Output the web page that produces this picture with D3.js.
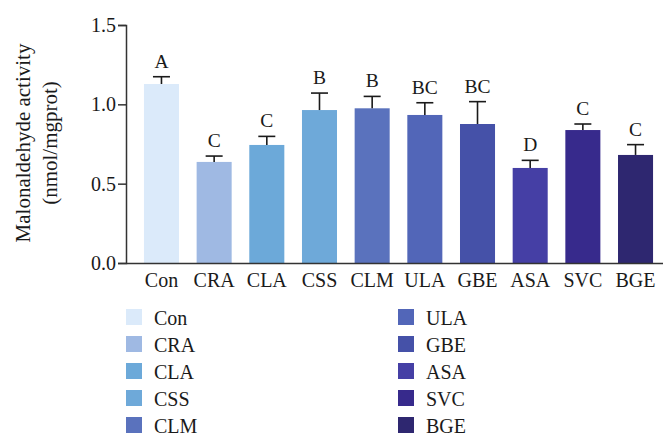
<!DOCTYPE html>
<html>
<head>
<meta charset="utf-8">
<script src="https://cdn.jsdelivr.net/npm/d3@7"></script>
<style>
  body { margin: 0; background: #fff; }
  text { font-family: "Liberation Serif", "DejaVu Serif", serif; fill: #1a1a1a; }
</style>
</head>
<body>
<div id="chart"></div>
<script>
const groups = ["Con", "CRA", "CLA", "CSS", "CLM", "ULA", "GBE", "ASA", "SVC", "BGE"];
const means = [1.128, 0.637, 0.744, 0.964, 0.975, 0.933, 0.876, 0.599, 0.838, 0.681];
const errs = [0.046, 0.037, 0.054, 0.107, 0.075, 0.077, 0.141, 0.048, 0.038, 0.065];
const letters = ["A", "C", "C", "B", "B", "BC", "BC", "D", "C", "C"];
const colors = ["#dbeafa", "#9fb9e3", "#6ca9d9", "#6ea9d9", "#5a72bd", "#5266b8", "#4551a8", "#453fa5", "#372a8c", "#2e2770"];
const yTicks = [0, 0.5, 1.0, 1.5];

const width = 664, height = 437;
const serif = "Liberation Serif, DejaVu Serif, serif";
const svg = d3.select("#chart").append("svg")
  .attr("width", width).attr("height", height);

const x = d3.scaleBand().domain(groups).range([135, 662])
  .paddingInner(0.335).paddingOuter(0.17);
const y = d3.scaleLinear().domain([0, 1.5]).range([263, 25]);
const color = d3.scaleOrdinal().domain(groups).range(colors);

// bars
svg.selectAll(".bar").data(groups).join("rect")
  .attr("class", "bar")
  .attr("x", d => x(d))
  .attr("y", (d, i) => y(means[i]))
  .attr("width", x.bandwidth())
  .attr("height", (d, i) => y(0) - y(means[i]))
  .attr("fill", d => color(d));

// error bars (upper only)
const eb = svg.append("g").attr("stroke", "#1a1a1a").attr("stroke-width", 1.6);
groups.forEach((g, i) => {
  const cx = x(g) + x.bandwidth() / 2;
  eb.append("line").attr("x1", cx).attr("x2", cx)
    .attr("y1", y(means[i])).attr("y2", y(means[i] + errs[i]));
  eb.append("line").attr("x1", cx - 8.5).attr("x2", cx + 8.5)
    .attr("y1", y(means[i] + errs[i])).attr("y2", y(means[i] + errs[i]));
});

// significance letters
svg.selectAll(".sig").data(groups).join("text")
  .attr("class", "sig")
  .attr("x", d => x(d) + x.bandwidth() / 2)
  .attr("y", (d, i) => y(means[i] + errs[i]) - 9)
  .attr("text-anchor", "middle")
  .attr("font-size", 19.5)
  .text((d, i) => letters[i]);

// y axis
const yAxis = svg.append("g").attr("transform", "translate(126,0)")
  .call(d3.axisLeft(y).tickValues(yTicks).tickFormat(d3.format(".1f")).tickSize(8).tickPadding(2));
yAxis.select(".domain").attr("stroke", "#333").attr("stroke-width", 1.5);
yAxis.selectAll(".tick line").attr("stroke", "#333").attr("stroke-width", 1.5);
yAxis.selectAll(".tick text").attr("font-size", 20)
  .attr("font-family", serif).attr("fill", "#1a1a1a");

// x axis
const xAxis = svg.append("g").attr("transform", "translate(0,263)")
  .call(d3.axisBottom(x).tickSize(0).tickPadding(10));
xAxis.select(".domain").attr("d", "M126,0.5H663").attr("stroke", "#333").attr("stroke-width", 1.5);
xAxis.selectAll(".tick text").attr("font-size", 20)
  .attr("font-family", serif).attr("fill", "#1a1a1a");

// y title
const yt = svg.append("text")
  .attr("transform", "translate(30,143) rotate(-90)")
  .attr("text-anchor", "middle").attr("font-size", 21);
yt.append("tspan").attr("x", 0).attr("dy", 0).text("Malonaldehyde activity");
yt.append("tspan").attr("x", 0).attr("dy", 27).text("(nmol/mgprot)");

// legend
const leg = svg.append("g");
groups.forEach((g, i) => {
  const col = Math.floor(i / 5), row = i % 5;
  const lx = col === 0 ? 126 : 398;
  const ly = 309 + row * 27;
  leg.append("rect").attr("x", lx).attr("y", ly).attr("width", 16).attr("height", 16)
    .attr("fill", color(g));
  leg.append("text").attr("x", lx + 28).attr("y", ly + 15.5)
    .attr("font-size", 20).text(g);
});
</script>
</body>
</html>
